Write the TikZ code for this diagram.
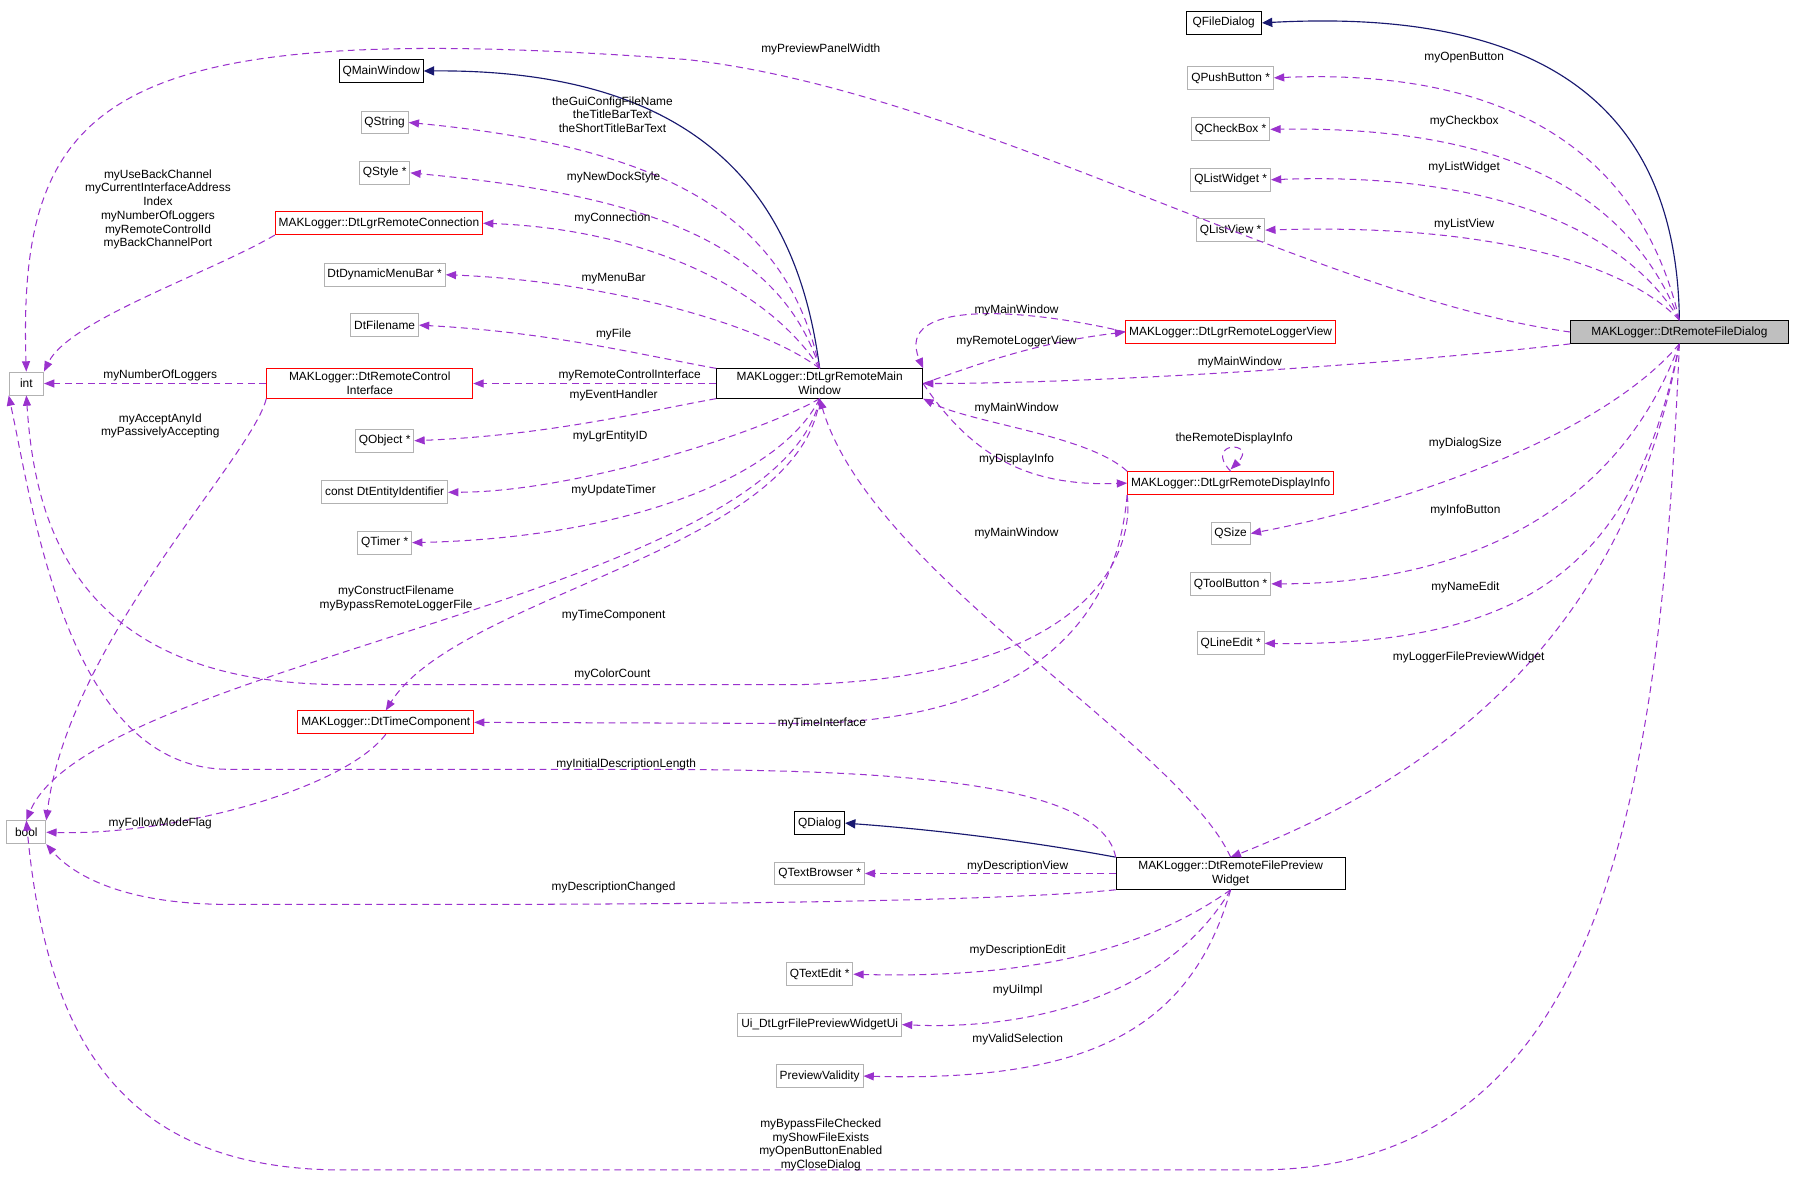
\documentclass[tikz,border=0pt]{standalone}
\usepackage{fontspec}
\setmainfont{Liberation Sans}
\usetikzlibrary{arrows.meta}
\definecolor{purp}{HTML}{9A32CD}
\definecolor{navy}{HTML}{191970}
\begin{document}
\begin{tikzpicture}[x=0.5pt,y=-0.5pt,font=\fontsize{5.2pt}{6pt}\selectfont,
 box/.style={draw=#1,fill=white,inner sep=1.5pt,minimum height=10pt,align=center,line width=0.4pt},
 gb/.style={box=gray!60}, bb/.style={box=black}, rb/.style={box=red},
 dep/.style={draw=purp,dash pattern=on 3pt off 2pt,line width=0.45pt,-{Triangle[length=4.5pt,width=3.5pt,fill=purp]}},
 inh/.style={draw=navy,line width=0.5pt,-{Triangle[length=4.5pt,width=4pt,fill=navy]}},
 lb/.style={inner sep=0pt,align=center}]
\useasboundingbox (0,0) rectangle (1568,1030);
% nodes
\node[bb,minimum width=33pt] (qfd) at (1069,20) {QFileDialog};
\node[gb] (qpb) at (1075,68) {QPushButton *};
\node[gb] (qcb) at (1075,113) {QCheckBox *};
\node[gb] (qlw) at (1075,157) {QListWidget *};
\node[gb] (qlv) at (1075,201) {QListView *};
\node[box=black,fill=gray!50,minimum width=95pt] (fd) at (1467,290) {MAKLogger::DtRemoteFileDialog};
\node[bb] (qmw) at (333,62) {QMainWindow};
\node[gb] (qstr) at (336,107) {QString};
\node[gb] (qsty) at (336,151) {QStyle *};
\node[rb] (con) at (331,195) {MAKLogger::DtLgrRemoteConnection};
\node[gb] (menu) at (336,240) {DtDynamicMenuBar *};
\node[gb] (fn) at (336,284) {DtFilename};
\node[rb,minimum width=90pt] (rci) at (323,335) {MAKLogger::DtRemoteControl\\Interface};
\node[gb] (qobj) at (336,385) {QObject *};
\node[gb] (ent) at (336,430) {const DtEntityIdentifier};
\node[gb] (qtim) at (336,474) {QTimer *};
\node[gb,minimum width=15pt] (int) at (23,335) {int};
\node[gb,minimum width=17pt] (bool) at (23,727) {bool};
\node[bb,minimum width=90pt] (mw) at (716,335) {MAKLogger::DtLgrRemoteMain\\Window};
\node[rb] (lv) at (1075,290) {MAKLogger::DtLgrRemoteLoggerView};
\node[rb] (di) at (1075,422) {MAKLogger::DtLgrRemoteDisplayInfo};
\node[gb] (qsz) at (1075,466) {QSize};
\node[gb] (qtb) at (1075,510) {QToolButton *};
\node[gb] (qle) at (1075,562) {QLineEdit *};
\node[rb] (tc) at (337,631) {MAKLogger::DtTimeComponent};
\node[bb] (qd) at (716,719) {QDialog};
\node[gb] (qtbr) at (716,763) {QTextBrowser *};
\node[bb,minimum width=100pt] (pw) at (1075,763) {MAKLogger::DtRemoteFilePreview\\Widget};
\node[gb] (qte) at (716,851) {QTextEdit *};
\node[gb] (ui) at (716,895) {Ui\_DtLgrFilePreviewWidgetUi};
\node[gb] (pv) at (716,940) {PreviewValidity};
% inheritance
\draw[inh] (fd.north) .. controls (1465,120) and (1380,5) .. (qfd.east);
\draw[inh] (mw.north) .. controls (700,200) and (640,60) .. (qmw.east);
\draw[inh] (pw.north west) .. controls (900,735) and (820,725) .. (qd.east);
% from fd
\draw[dep] (fd.west) .. controls (1150,260) and (850,80) .. (600,52) .. controls (100,15) and (15,80) .. (int.north);
\draw[dep] (fd.north) .. controls (1430,120) and (1300,60) .. (qpb.east);
\draw[dep] (fd.north) .. controls (1420,160) and (1300,110) .. (qcb.east);
\draw[dep] (fd.north) .. controls (1420,200) and (1300,150) .. (qlw.east);
\draw[dep] (fd.north) .. controls (1420,230) and (1300,195) .. (qlv.east);
\draw[dep] (fd.south west) .. controls (1200,320) and (950,335) .. (mw.east);
\draw[dep] (fd.south) .. controls (1400,380) and (1230,440) .. (qsz.east);
\draw[dep] (fd.south) .. controls (1420,430) and (1300,510) .. (qtb.east);
\draw[dep] (fd.south) .. controls (1430,480) and (1350,565) .. (qle.east);
\draw[dep] (fd.south) .. controls (1420,560) and (1250,680) .. (pw.north);
\draw[dep] (fd.south) .. controls (1450,700) and (1400,1020) .. (1100,1022) -- (300,1022) .. controls (100,1022) and (40,900) .. (bool.north);
% from mw
\draw[dep] (mw.north) .. controls (690,200) and (600,130) .. (qstr.east);
\draw[dep] (mw.north) .. controls (680,210) and (560,170) .. (qsty.east);
\draw[dep] (mw.north) .. controls (670,250) and (560,200) .. (con.east);
\draw[dep] (mw.north) .. controls (660,280) and (520,245) .. (menu.east);
\draw[dep] (mw.north west) .. controls (560,310) and (480,290) .. (fn.east);
\draw[dep] (mw.west) -- (rci.east);
\draw[dep] (mw.south west) .. controls (560,360) and (480,380) .. (qobj.east);
\draw[dep] (mw.south) .. controls (660,380) and (500,430) .. (ent.east);
\draw[dep] (mw.south) .. controls (680,420) and (540,470) .. (qtim.east);
\draw[dep] (mw.south) .. controls (680,520) and (80,580) .. (bool.north);
\draw[dep] (mw.south) .. controls (700,480) and (400,520) .. (tc.north);
\draw[dep] (mw.east) .. controls (850,320) and (900,300) .. (lv.west);
\draw[dep] (mw.east) .. controls (850,400) and (900,425) .. (di.west);
% lv, di
\draw[dep] (lv.west) .. controls (900,270) and (780,260) .. (mw.north east);
\draw[dep] (di.north west) .. controls (950,380) and (850,370) .. (mw.south east);
\draw[dep] (di.north) .. controls (1050,385) and (1100,385) .. (1075,410);
\draw[dep] (di.south west) .. controls (990,470) and (970,590) .. (700,598) -- (300,598) .. controls (60,598) and (30,450) .. (int.south);
\draw[dep] (di.south west) .. controls (980,480) and (960,630) .. (700,632) -- (tc.east);
% con, rci, tc
\draw[dep] (con.south west) .. controls (180,240) and (60,280) .. (int.north east);
\draw[dep] (rci.west) -- (int.east);
\draw[dep] (rci.south west) .. controls (220,400) and (60,560) .. (bool.north east);
\draw[dep] (tc.south) .. controls (300,690) and (150,730) .. (bool.east);
% from pw
\draw[dep] (pw.north) .. controls (1030,650) and (760,500) .. (mw.south);
\draw[dep] (pw.north west) .. controls (960,670) and (700,672) .. (500,672) -- (200,672) .. controls (60,672) and (30,450) .. (int.south west);
\draw[dep] (pw.west) -- (qtbr.east);
\draw[dep] (pw.south west) .. controls (900,785) and (700,790) .. (400,790) -- (200,790) .. controls (100,790) and (60,760) .. (bool.south east);
\draw[dep] (pw.south) .. controls (1000,830) and (900,855) .. (qte.east);
\draw[dep] (pw.south) .. controls (1020,870) and (900,900) .. (ui.east);
\draw[dep] (pw.south) .. controls (1040,900) and (950,945) .. (pv.east);
% labels
\node[lb] at (717,43) {myPreviewPanelWidth};
\node[lb] at (1279,50) {myOpenButton};
\node[lb] at (1279,106) {myCheckbox};
\node[lb] at (1279,146) {myListWidget};
\node[lb] at (1279,196) {myListView};
\node[lb] at (1083,317) {myMainWindow};
\node[lb] at (1280,387) {myDialogSize};
\node[lb] at (1280,446) {myInfoButton};
\node[lb] at (1280,513) {myNameEdit};
\node[lb] at (1283,574) {myLoggerFilePreviewWidget};
\node[lb] at (717,1000) {myBypassFileChecked\\myShowFileExists\\myOpenButtonEnabled\\myCloseDialog};
\node[lb] at (535,100) {theGuiConfigFileName\\theTitleBarText\\theShortTitleBarText};
\node[lb] at (536,155) {myNewDockStyle};
\node[lb] at (535,191) {myConnection};
\node[lb] at (536,243) {myMenuBar};
\node[lb] at (536,292) {myFile};
\node[lb] at (550,328) {myRemoteControlInterface};
\node[lb] at (536,345) {myEventHandler};
\node[lb] at (533,381) {myLgrEntityID};
\node[lb] at (536,428) {myUpdateTimer};
\node[lb] at (346,523) {myConstructFilename\\myBypassRemoteLoggerFile};
\node[lb] at (536,538) {myTimeComponent};
\node[lb] at (888,271) {myMainWindow};
\node[lb] at (888,298) {myRemoteLoggerView};
\node[lb] at (888,357) {myMainWindow};
\node[lb] at (888,401) {myDisplayInfo};
\node[lb] at (1078,383) {theRemoteDisplayInfo};
\node[lb] at (888,466) {myMainWindow};
\node[lb] at (535,589) {myColorCount};
\node[lb] at (718,632) {myTimeInterface};
\node[lb] at (138,183) {myUseBackChannel\\myCurrentInterfaceAddress\\Index\\myNumberOfLoggers\\myRemoteControlId\\myBackChannelPort};
\node[lb] at (140,328) {myNumberOfLoggers};
\node[lb] at (140,372) {myAcceptAnyId\\myPassivelyAccepting};
\node[lb] at (140,719) {myFollowModeFlag};
\node[lb] at (547,668) {myInitialDescriptionLength};
\node[lb] at (889,757) {myDescriptionView};
\node[lb] at (536,775) {myDescriptionChanged};
\node[lb] at (889,830) {myDescriptionEdit};
\node[lb] at (889,865) {myUiImpl};
\node[lb] at (889,908) {myValidSelection};
\end{tikzpicture}
\end{document}
